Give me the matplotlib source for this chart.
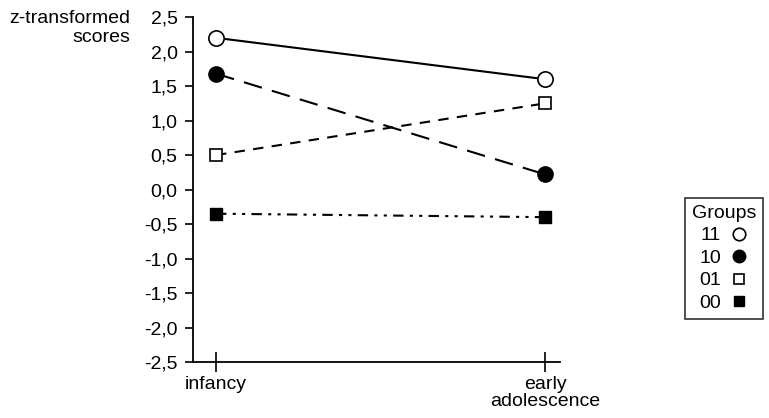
import matplotlib.pyplot as plt
from matplotlib.lines import Line2D
from matplotlib.ticker import FuncFormatter

plt.rcParams['font.family'] = ['Liberation Sans', 'DejaVu Sans']

# data
stages = ['infancy', 'early\nadolescence']
groups = ['11', '10', '01', '00']
g11 = [2.2, 1.6]
g10 = [1.68, 0.22]
g01 = [0.5, 1.25]
g00 = [-0.35, -0.4]

fs = 14

fig = plt.figure(figsize=(7.69, 4.18), dpi=100)
ax = fig.add_axes([0.251, 0.134, 0.477, 0.825])

x = [0, 1]
ax.plot(x, g11, color='black', lw=1.5, ls='-', marker='o', ms=11,
        mfc='white', mec='black', mew=1.2, zorder=3)
ax.plot(x, g10, color='black', lw=1.5, ls=(0, (9, 5)), marker='o', ms=11,
        mfc='black', mec='black', zorder=3)
ax.plot(x, g01, color='black', lw=1.5, ls=(0, (5, 4)), marker='s', ms=8.5,
        mfc='white', mec='black', mew=1.2, zorder=3)
ax.plot(x, g00, color='black', lw=1.5, ls=(0, (5, 3, 1.5, 3, 1.5, 3)),
        marker='s', ms=8.5, mfc='black', mec='black', zorder=3)

ax.set_xlim(-0.07, 1.045)
ax.set_ylim(-2.5, 2.5)
ax.set_yticks([2.5, 2.0, 1.5, 1.0, 0.5, 0.0, -0.5, -1.0, -1.5, -2.0, -2.5])
ax.yaxis.set_major_formatter(FuncFormatter(lambda v, p: f'{v:.1f}'.replace('.', ',')))
ax.set_xticks(x)
ax.set_xticklabels(stages, linespacing=1.0)

for s in ['top', 'right']:
    ax.spines[s].set_visible(False)
ax.spines['left'].set_linewidth(1.3)
ax.spines['bottom'].set_linewidth(1.3)
ax.tick_params(axis='y', direction='out', length=6, width=1.2, labelsize=fs, pad=5)
ax.tick_params(axis='x', direction='inout', length=14, width=1.2, labelsize=fs, pad=3)

fig.text(0.17, 0.975, 'z-transformed\nscores', ha='right', va='top',
         fontsize=fs, linespacing=1.15)

handles = [
    Line2D([], [], ls='none', marker='o', ms=9, mfc='white', mec='black', mew=1.2),
    Line2D([], [], ls='none', marker='o', ms=9, mfc='black', mec='black'),
    Line2D([], [], ls='none', marker='s', ms=7.5, mfc='white', mec='black', mew=1.2),
    Line2D([], [], ls='none', marker='s', ms=7.5, mfc='black', mec='black'),
]
leg = fig.legend(handles, groups, title='Groups', loc='upper left',
                 bbox_to_anchor=(0.891, 0.526), borderaxespad=0,
                 markerfirst=False, frameon=True,
                 fancybox=False, edgecolor='black', fontsize=fs,
                 title_fontsize=fs, handlelength=1.0, handletextpad=0.45,
                 borderpad=0.35, labelspacing=0.25)
leg.get_frame().set_linewidth(1.2)

fig.savefig('out.png', dpi=100)
